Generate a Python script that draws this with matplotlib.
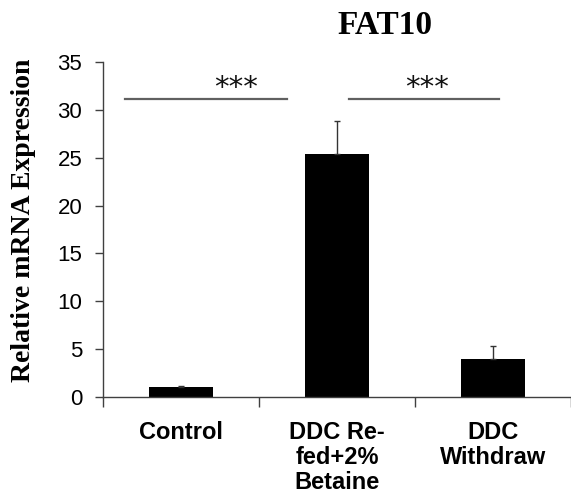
import matplotlib
matplotlib.use("Agg")
import matplotlib.pyplot as plt
import numpy as np

categories = ["Control", "DDC Re-\nfed+2%\nBetaine", "DDC\nWithdraw"]
values = [1.0, 25.35, 3.95]
errors = [0.1, 3.5, 1.35]
yticks = [0, 5, 10, 15, 20, 25, 30, 35]
# (line start, line end, line height, label position)
sig_pairs = [(-0.36, 0.68, 31.15, 0.35), (1.076, 2.04, 31.15, 1.58)]
sig_labels = ["***", "***"]
title = "FAT10"
ylabel = "Relative mRNA Expression"

sans = "Liberation Sans"
serif = "Liberation Serif"

fig = plt.figure(figsize=(5.71, 4.99), dpi=100)
ax = fig.add_axes([0.1804, 0.2044, 1.0 - 0.1804, 0.8758 - 0.2044])

x = np.arange(len(categories))
ax.bar(x, values, width=0.405, color="black", zorder=2)
ax.errorbar(x, values, yerr=[np.zeros(len(values)), errors], fmt="none",
            ecolor="#333333", elinewidth=1.0, capsize=2.5, capthick=1.0, zorder=3)

ax.set_xlim(-0.5, 2.46)
ax.set_ylim(0, 35)
ax.set_yticks(yticks)
ax.set_yticklabels([str(t) for t in yticks], fontsize=16, family=sans)
ax.set_xticks(x)
ax.set_xticklabels(categories, fontsize=17, family=sans, fontweight="bold",
                   linespacing=1.12)
ax.tick_params(axis="x", which="major", length=0, pad=17)
ax.set_xticks([-0.5, 0.5, 1.5, 2.5], minor=True)
ax.tick_params(axis="x", which="minor", length=7, width=1.0, color="#404040", direction="out")
ax.tick_params(axis="y", length=6, width=1.0, color="#404040", direction="out", pad=9)

for s in ["top", "right"]:
    ax.spines[s].set_visible(False)
for s in ["left", "bottom"]:
    ax.spines[s].set_color("#404040")
    ax.spines[s].set_linewidth(1.0)

for (x0, x1, yy, xs), lab in zip(sig_pairs, sig_labels):
    ax.plot([x0, x1], [yy, yy], color="#606060", lw=1.6, clip_on=False)
    ax.text(xs, yy + 0.3, lab, ha="center", va="baseline", fontsize=21,
            family="DejaVu Sans", color="#111111")

fig.text(0.675, 0.949, title, ha="center", va="center", fontsize=24,
         family=serif, fontweight="bold")
fig.text(0.042, 0.559, ylabel, ha="center", va="center", rotation=90,
         fontsize=20, family=serif, fontweight="bold")

fig.savefig("out.png", dpi=100, facecolor="white")
